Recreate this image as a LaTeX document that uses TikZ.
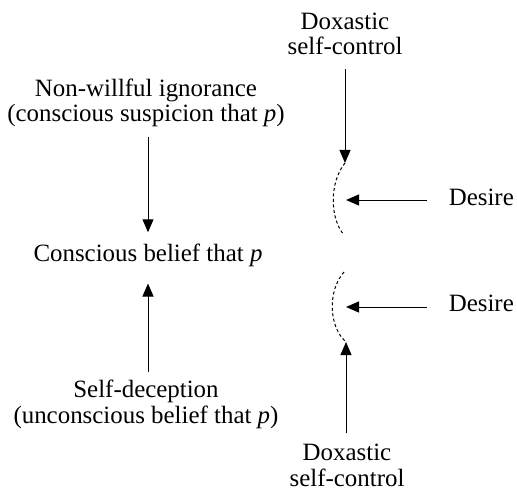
\documentclass[tikz,border=0pt]{standalone}
\usepackage{fontspec}
\setmainfont{Liberation Serif}
\usetikzlibrary{arrows.meta}
\tikzset{
  lbl/.style={inner sep=0pt, align=center, font=\fontsize{25}{26}\selectfont},
  arr/.style={line width=1bp, -{Triangle[length=13bp,width=11bp]}},
  dcurve/.style={line width=1bp, dash pattern=on 3bp off 2.5bp}
}
\begin{document}
\begin{tikzpicture}[x=1bp,y=-1bp]
\useasboundingbox (0,0) rectangle (517,492);
% text nodes (anchor at baseline of last line)
\node[lbl, anchor=base] (dsc1) at (345,55) {Doxastic\\self-control};
\node[lbl, anchor=base] (nwi) at (146,122) {Non-willful ignorance\\(conscious suspicion that \textit{p})};
\node[lbl, anchor=base] (cb) at (148,261) {Conscious belief that \textit{p}};
\node[lbl, anchor=base] (sd) at (146,423) {Self-deception\\(unconscious belief that \textit{p})};
\node[lbl, anchor=base] (dsc2) at (347,486) {Doxastic\\self-control};
\node[lbl, anchor=base east] (des1) at (514,206) {Desire};
\node[lbl, anchor=base east] (des2) at (514,311) {Desire};
% curve end points
\coordinate (c1t) at (345,163);
\coordinate (c1b) at (344,235);
\coordinate (c1m) at (346,200);
\coordinate (c2t) at (344,272);
\coordinate (c2b) at (346,342);
\coordinate (c2m) at (346,307);
% dashed curves
\draw[dcurve] (c1t) .. controls (329.5,182) and (329.5,218) .. (c1b);
\draw[dcurve] (c2t) .. controls (328,290) and (328,326) .. (c2b);
% arrows
\draw[arr, shorten <=14bp] (dsc1.south -| c1t) -- (c1t);
\draw[arr, shorten <=10bp] (dsc2.north -| c2b) -- (c2b);
\draw[arr, shorten <=22bp] (des1.west |- c1m) -- (c1m);
\draw[arr, shorten <=22bp] (des2.west |- c2m) -- (c2m);
\draw[arr, shorten <=9bp, shorten >=11bp] (nwi.south -| cb) -- (cb.north);
\draw[arr, shorten <=7bp, shorten >=17bp] (sd.north -| cb) -- (cb.south);
\end{tikzpicture}
\end{document}
